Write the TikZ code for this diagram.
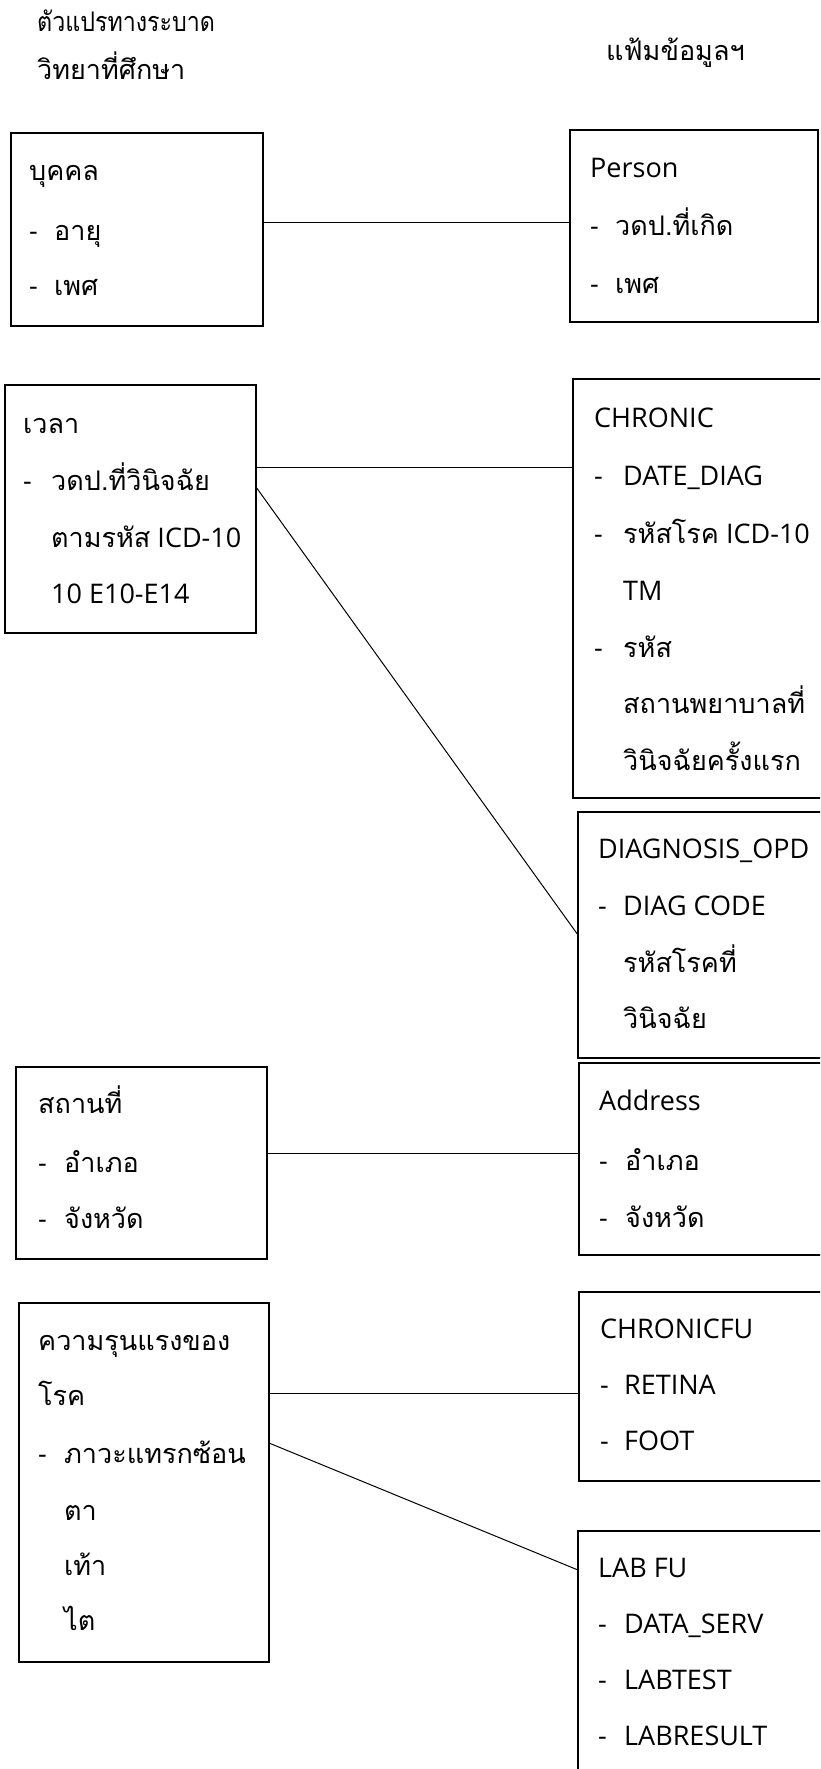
\documentclass[tikz,border=0pt]{standalone}
\usepackage{fontspec}
\usepackage{graphicx}
\setmainfont{Open Sans}
\newfontfamily\thaifont[Script=Thai]{Loma}
\newcommand{\tha}[1]{{\thaifont #1}}
\newcommand{\itemdash}[1][26pt]{\makebox[#1][l]{-}}
\begin{document}
\begin{tikzpicture}[x=1pt,y=-1pt,
  box/.style={draw, line width=1.5pt, anchor=north west, inner sep=0pt, outer sep=0pt},
  txt/.style={anchor=base west, inner sep=0pt, font=\fontsize{27}{27}\selectfont},
  link/.style={line width=1pt}]
\useasboundingbox (0,0) rectangle (820,1769);
\clip (0,0) rectangle (820,1769);

% headers
\node[txt] (h1) at (37,32) {\scalebox{0.86}[1]{\tha{ตัวแปรทางระบาด}}};
\node[txt] (h2) at (37,80) {\tha{วิทยาที่ศึกษา}};
\node[txt] (h3) at (606,60) {\tha{แฟ้มข้อมูลฯ}};

% boxes
\node[box, minimum width=252pt, minimum height=193pt] (b1) at (11,133) {};
\node[box, minimum width=248pt, minimum height=192pt] (p) at (570,130) {};
\node[box, minimum width=251pt, minimum height=248pt] (t) at (5,385) {};
\node[box, minimum width=260pt, minimum height=419pt] (ch) at (573,379) {};
\node[box, minimum width=260pt, minimum height=246pt] (dx) at (578,812) {};
\node[box, minimum width=260pt, minimum height=192pt] (ad) at (579,1063) {};
\node[box, minimum width=251pt, minimum height=192pt] (pl) at (16,1067) {};
\node[box, minimum width=250pt, minimum height=359pt] (sv) at (19,1303) {};
\node[box, minimum width=260pt, minimum height=189pt] (cf) at (579,1292) {};
\node[box, minimum width=260pt, minimum height=300pt] (lab) at (578,1531) {};

% texts: บุคคล
\node[txt] (b1a) at (29,180) {\tha{บุคคล}};
\node[txt] (b1b) at (29,240) {\itemdash[25pt]\tha{อายุ}};
\node[txt] (b1c) at (29,295) {\itemdash[25pt]\tha{เพศ}};
% Person
\node[txt] (pa) at (590,177) {Person};
\node[txt] (pb) at (590,235) {\itemdash[25pt]\tha{วดป.ที่เกิด}};
\node[txt] (pc) at (590,293) {\itemdash[25pt]\tha{เพศ}};
% เวลา
\node[txt] (ta) at (23,433) {\tha{เวลา}};
\node[txt] (tb) at (23,490) {\itemdash[28pt]\tha{วดป.ที่วินิจฉัย}};
\node[txt] (tc) at (51,547) {\tha{ตามรหัส} ICD-10};
\node[txt] (td) at (51,603) {10 E10-E14};
% CHRONIC
\node[txt] (cha) at (594,427) {CHRONIC};
\node[txt] (chb) at (594,485) {\itemdash[29pt]DATE\_DIAG};
\node[txt] (chc) at (594,543) {\itemdash[29pt]\tha{รหัสโรค} ICD-10};
\node[txt] (chd) at (623,600) {TM};
\node[txt] (che) at (594,657) {\itemdash[29pt]\tha{รหัส}};
\node[txt] (chf) at (623,713) {\tha{สถานพยาบาลที่}};
\node[txt] (chg) at (623,770) {\tha{วินิจฉัยครั้งแรก}};
% DIAGNOSIS_OPD
\node[txt] (dxa) at (598,858) {DIAGNOSIS\_OPD};
\node[txt] (dxb) at (598,915) {\itemdash[25pt]DIAG CODE};
\node[txt] (dxc) at (623,972) {\tha{รหัสโรคที่}};
\node[txt] (dxd) at (623,1028) {\tha{วินิจฉัย}};
% Address
\node[txt] (ada) at (599,1110) {Address};
\node[txt] (adb) at (599,1170) {\itemdash\tha{อำเภอ}};
\node[txt] (adc) at (599,1227) {\itemdash\tha{จังหวัด}};
% สถานที่
\node[txt] (pla) at (38,1113) {\tha{สถานที่}};
\node[txt] (plb) at (38,1172) {\itemdash\tha{อำเภอ}};
\node[txt] (plc) at (38,1228) {\itemdash\tha{จังหวัด}};
% ความรุนแรงของโรค
\node[txt] (sva) at (38,1350) {\tha{ความรุนแรงของ}};
\node[txt] (svb) at (38,1405) {\tha{โรค}};
\node[txt] (svc) at (38,1463) {\itemdash\tha{ภาวะแทรกซ้อน}};
\node[txt] (svd) at (64,1520) {\tha{ตา}};
\node[txt] (sve) at (64,1575) {\tha{เท้า}};
\node[txt] (svf) at (64,1630) {\tha{ไต}};
% CHRONICFU
\node[txt] (cfa) at (600,1338) {CHRONICFU};
\node[txt] (cfb) at (600,1394) {\itemdash[24pt]RETINA};
\node[txt] (cfc) at (600,1450) {\itemdash[24pt]FOOT};
% LAB FU
\node[txt] (laba) at (598,1577) {LAB FU};
\node[txt] (labb) at (598,1633) {\itemdash DATA\_SERV};
\node[txt] (labc) at (598,1689) {\itemdash LABTEST};
\node[txt] (labd) at (598,1745) {\itemdash LABRESULT};

% connectors
\draw[link] ([yshift=7pt]b1.east) -- ([yshift=7pt]b1.east -| p.west);
\draw[link] ([yshift=42pt]t.east) -- ([yshift=42pt]t.east -| ch.west);
\draw[link] ([yshift=22pt]t.east) -- (dx.west);
\draw[link] ([yshift=10pt]pl.east) -- ([yshift=10pt]pl.east -| ad.west);
\draw[link] ([yshift=89.5pt]sv.east) -- ([yshift=89.5pt]sv.east -| cf.west);
\draw[link] ([yshift=39.5pt]sv.east) -- ([yshift=-39pt]lab.north west);
\end{tikzpicture}
\end{document}
